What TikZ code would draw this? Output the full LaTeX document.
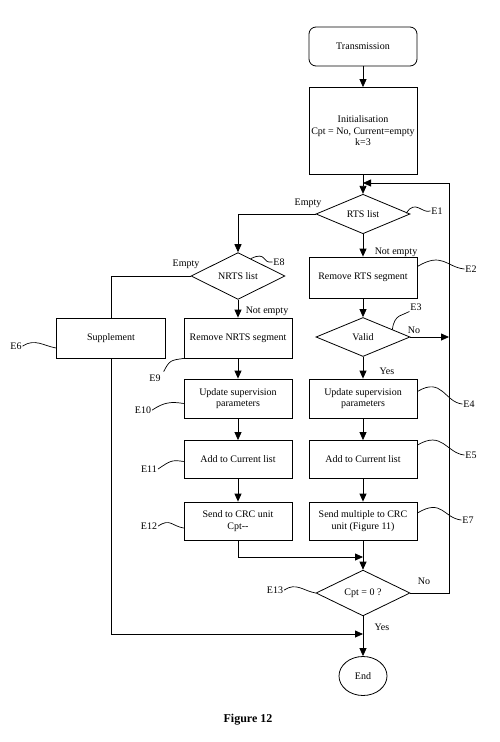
\documentclass[tikz,border=0pt]{standalone}
\usepackage{fontspec}
\setmainfont{Liberation Serif}
\usetikzlibrary{shapes.geometric,arrows.meta,calc}
\begin{document}
\begin{tikzpicture}[x=1pt,y=-1pt,
  txt/.style={font=\fontsize{10}{11.5}\selectfont},
  box/.style={draw, line width=0.8pt, minimum width=108pt, minimum height=39pt, align=center, inner sep=2pt, txt},
  dia/.style={draw, diamond, line width=0.8pt, minimum width=94pt, minimum height=38pt, inner sep=0pt, txt},
  lbl/.style={inner sep=1pt, txt},
  ln/.style={line width=0.8pt},
  arr/.style={ln, -{Triangle[length=8pt,width=7pt]}},
  squig/.style={line width=0.7pt, line cap=round}]
\useasboundingbox (0,0) rectangle (500,742);

% right column
\node[box, rounded corners=7pt] (trans) at (363,46.5) {Transmission};
\node[box, minimum height=87pt] (init) at (363,131) {Initialisation\\Cpt = No, Current=empty\\k=3};
\node[dia] (rts) at (363,214) {RTS list};
\node[box, minimum height=41pt] (rrts) at (363,277.5) {Remove RTS segment};
\node[dia, minimum height=39pt] (valid) at (363,337) {Valid};
\node[box] (upd) at (363,398.5) {Update supervision\\parameters};
\node[box, minimum height=38pt] (add) at (363,459.5) {Add to Current list};
\node[box, minimum height=38pt] (sendm) at (363,521) {Send multiple to CRC\\unit (Figure 11)};
\node[dia] (cpt) at (363,593) {Cpt = 0 ?};
\node[draw, ellipse, line width=0.8pt, minimum width=48pt, minimum height=39pt, inner sep=0pt, txt] (enode) at (363,676) {End};

% left column
\node[dia] (nrts) at (238,276) {NRTS list};
\node[box, minimum height=40pt] (rnrts) at (238,338) {Remove NRTS segment};
\node[box] (upd2) at (238,398.5) {Update supervision\\parameters};
\node[box, minimum height=38pt] (add2) at (238,459.5) {Add to Current list};
\node[box, minimum height=38pt] (send2) at (238,521) {Send to CRC unit\\Cpt-{}-};
\node[box, minimum height=40pt, minimum width=109pt] (supp) at (111,338) {Supplement};

% helper coordinates
\coordinate (lp) at (449,183);
\coordinate (m1) at (363,557);
\coordinate (m2) at (363,634);

% connectors
\draw[arr] (trans.south) -- (init.north);
\draw[arr] (init.south) -- (rts.north);
\draw[arr] (cpt.east) -| (lp) -- (lp -| rts.north);
\draw[arr] (rts.south) -- (rrts.north);
\draw[arr] (rrts.south) -- (valid.north);
\draw[arr] (valid.east) -- (valid.east -| lp);
\draw[arr] (valid.south) -- (upd.north);
\draw[arr] (upd.south) -- (add.north);
\draw[arr] (add.south) -- (sendm.north);
\draw[arr] (sendm.south) -- (cpt.north);
\draw[arr] (cpt.south) -- (enode.north);
\draw[arr] (rts.west) -| (nrts.north);
\draw[ln] (nrts.west) -| (supp.north);
\draw[arr] (nrts.south) -- (rnrts.north);
\draw[arr] (rnrts.south) -- (upd2.north);
\draw[arr] (upd2.south) -- (add2.north);
\draw[arr] (add2.south) -- (send2.north);
\draw[arr] (send2.south) |- (m1);
\draw[arr] (supp.south) |- (m2);

% flow labels
\node[lbl] (l1) at (308,203) {Empty};
\node[lbl] (l2) at (396,252) {Not empty};
\node[lbl] (l3) at (414,330) {No};
\node[lbl] (l4) at (387,371) {Yes};
\node[lbl] (l5) at (424,581) {No};
\node[lbl] (l6) at (382,627) {Yes};
\node[lbl] (l7) at (186,264) {Empty};
\node[lbl] (l8) at (267,311) {Not empty};

% step labels
\node[lbl] (e1) at (437,211) {E1};
\node[lbl] (e2) at (471,269) {E2};
\node[lbl] (e3) at (416,307) {E3};
\node[lbl] (e4) at (469,404) {E4};
\node[lbl] (e5) at (471,455) {E5};
\node[lbl] (e7) at (468,520) {E7};
\node[lbl] (e8) at (279,262) {E8};
\node[lbl] (e9) at (155,378) {E9};
\node[lbl] (e10) at (143,410) {E10};
\node[lbl] (e11) at (149,469) {E11};
\node[lbl] (e12) at (149,526) {E12};
\node[lbl] (e6) at (16,346) {E6};
\node[lbl] (e13) at (275,590) {E13};

\draw[squig] ($(rts.east)+(-4,-1)$) .. controls +(9,-14) and +(-8,3) .. (e1.west);
\draw[squig] ($(rrts.east)+(0,-11)$) .. controls +(25,-15) and +(-18,-2) .. (e2.west);
\draw[squig] ($(valid.north)!0.62!(valid.east)$) .. controls +(2,-16) and +(-6,4) .. (e3.south west);
\draw[squig] ($(upd.east)+(0,-7)$) .. controls +(25,-15) and +(-18,-2) .. (e4.west);
\draw[squig] ($(add.north east)+(0,5)$) .. controls +(25,-15) and +(-18,-2) .. (e5.west);
\draw[squig] ($(sendm.east)+(0,-8)$) .. controls +(25,-15) and +(-18,-2) .. (e7.west);
\draw[squig] ($(nrts.north)!0.27!(nrts.east)$) .. controls +(16,-8) and +(-10,2) .. (e8.west);
\draw[squig] (rnrts.south west) .. controls +(-12,2) and +(6,-12) .. ($(e9.north east)+(2,-2)$);
\draw[squig] (e10.east) .. controls +(12,-8) and +(-12,-2) .. ($(upd2.west)+(0,5)$);
\draw[squig] (e11.east) .. controls +(12,-8) and +(-12,-2) .. ($(add2.west)+(0,2)$);
\draw[squig] (e12.east) .. controls +(12,-8) and +(-12,-2) .. ($(send2.west)+(0,7)$);
\draw[squig] (e6.east) .. controls +(12,-8) and +(-12,-2) .. ($(supp.west)+(0,10)$);
\draw[squig] (e13.east) .. controls +(12,-8) and +(-12,-2) .. (cpt.west);

\node[font=\bfseries\fontsize{12}{14}\selectfont] (cap) at (248,720) {Figure 12};
\end{tikzpicture}
\end{document}
